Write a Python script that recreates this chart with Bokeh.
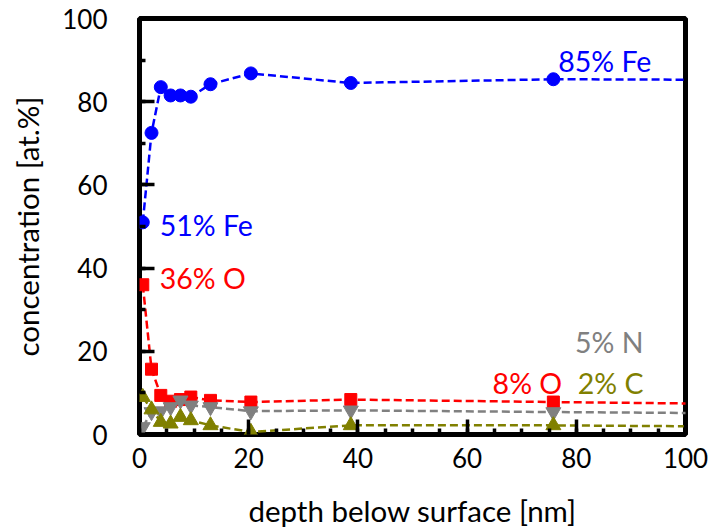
from bokeh.plotting import figure
from bokeh.models import Range1d, SingleIntervalTicker, Label, ColumnDataSource
from bokeh.embed import file_html
from bokeh.resources import INLINE

# depth below surface [nm]; last entry lies beyond the plotted range so the
# dashed line runs out to the right edge
depth = [0.6, 2.2, 3.9, 5.7, 7.5, 9.4, 13.0, 20.4, 38.7, 75.8, 120.0]

fe = [51.0, 72.5, 83.5, 81.5, 81.5, 81.2, 84.2, 86.8, 84.5, 85.4, 85.2]
o = [36.0, 15.7, 9.4, 8.0, 8.4, 9.0, 8.2, 7.8, 8.4, 7.8, 7.2]
n = [1.8, 5.4, 5.6, 6.6, 8.2, 7.0, 6.6, 5.6, 5.8, 5.4, 5.0]
c = [9.0, 6.0, 3.0, 2.6, 4.2, 3.4, 2.2, 0.6, 2.2, 2.2, 1.8]

x_ticks_interval = 20
y_ticks_interval = 20

FONT = "Lato"
BLUE = "#0000ff"
RED = "#ff0000"
GRAY = "#808080"
OLIVE = "#808000"

p = figure(
    width=710, height=531,
    x_range=Range1d(0, 100), y_range=Range1d(0, 100),
    output_backend="svg", toolbar_location=None,
    min_border_left=139, min_border_right=25,
    min_border_top=18, min_border_bottom=97,
)
p.background_fill_color = "white"
p.border_fill_color = "white"
p.outline_line_color = "black"
p.outline_line_width = 5
p.xgrid.visible = False
p.ygrid.visible = False

p.xaxis.ticker = SingleIntervalTicker(interval=x_ticks_interval, num_minor_ticks=4)
p.yaxis.ticker = SingleIntervalTicker(interval=y_ticks_interval, num_minor_ticks=2)

for ax in (p.xaxis[0], p.yaxis[0]):
    ax.axis_line_color = None
    ax.major_tick_in = 15
    ax.major_tick_out = 0
    ax.minor_tick_in = 6
    ax.minor_tick_out = 0
    ax.major_tick_line_width = 3.5
    ax.minor_tick_line_width = 3.5
    ax.major_tick_line_color = "black"
    ax.minor_tick_line_color = "black"
    ax.major_label_text_font = FONT
    ax.major_label_text_font_size = "26px"
    ax.major_label_text_color = "black"
    ax.axis_label_text_font = FONT
    ax.axis_label_text_font_size = "29.5px"
    ax.axis_label_text_font_style = "normal"
    ax.axis_label_text_color = "black"

p.xaxis.axis_label = "depth below surface [nm]"
p.yaxis.axis_label = "concentration [at.%]"
p.xaxis.major_label_standoff = 13
p.xaxis.axis_label_standoff = 22
p.yaxis.major_label_standoff = 32
p.yaxis.axis_label_standoff = 14

src = ColumnDataSource(dict(depth=depth, fe=fe, o=o, n=n, c=c))
dash = "8 4"

p.line("depth", "fe", source=src, color=BLUE, line_width=2.5, line_dash=dash)
p.scatter("depth", "fe", source=src, marker="circle", size=13, color=BLUE)

p.line("depth", "o", source=src, color=RED, line_width=2.5, line_dash=dash)
p.scatter("depth", "o", source=src, marker="square", size=12, color=RED)

p.line("depth", "n", source=src, color=GRAY, line_width=2.5, line_dash=dash)
p.scatter("depth", "n", source=src, marker="inverted_triangle", size=15, color=GRAY)

p.line("depth", "c", source=src, color=OLIVE, line_width=2.5, line_dash=dash)
p.scatter("depth", "c", source=src, marker="triangle", size=15, color=OLIVE)

labels = [
    ("51% Fe", 3.7, 50.3, "left", BLUE),
    ("85% Fe", 76.7, 89.8, "left", BLUE),
    ("36% O", 3.7, 37.7, "left", RED),
    ("5% N", 92.3, 22.3, "right", GRAY),
    ("8% O", 77.4, 12.4, "right", RED),
    ("2% C", 92.3, 12.4, "right", OLIVE),
]
for txt, lx, ly, align, col in labels:
    p.add_layout(Label(x=lx, y=ly, text=txt, text_align=align,
                       text_baseline="middle", text_font=FONT,
                       text_font_size="28.5px", text_color=col))

open("out.html", "w").write(file_html(p, INLINE))
